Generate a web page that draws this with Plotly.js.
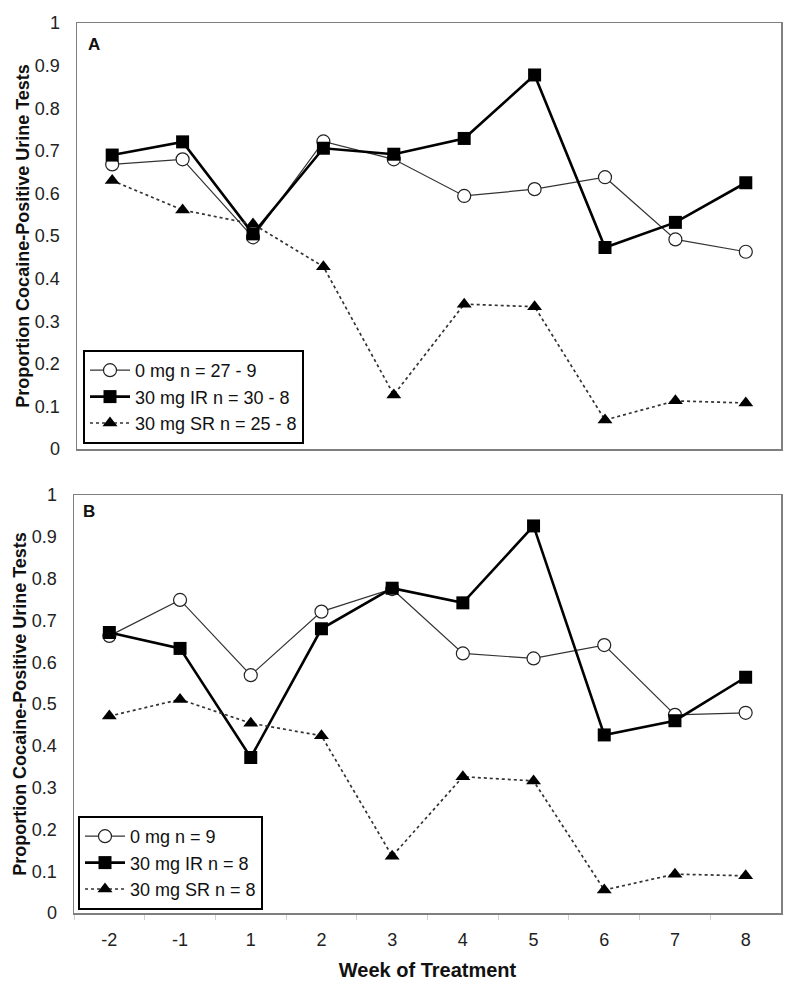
<!DOCTYPE html>
<html>
<head>
<meta charset="utf-8">
<script src="https://cdn.plot.ly/plotly-3.0.1.min.js"></script>
<style>html,body{margin:0;padding:0;background:#fff;}#chart{width:800px;height:987px;}</style>
</head>
<body>
<div id="chart"></div>
<script>
const weeks = ['-2','-1','1','2','3','4','5','6','7','8'];
const placeboA = [0.668,0.680,0.497,0.722,0.680,0.594,0.610,0.638,0.492,0.463];
const irA      = [0.690,0.721,0.505,0.706,0.692,0.729,0.878,0.473,0.532,0.625];
const srA      = [0.630,0.561,0.528,0.428,0.127,0.340,0.334,0.068,0.113,0.108];
const placeboB = [0.663,0.749,0.569,0.721,0.775,0.621,0.609,0.641,0.474,0.479];
const irB      = [0.671,0.633,0.372,0.680,0.777,0.742,0.926,0.426,0.460,0.564];
const srB      = [0.471,0.511,0.454,0.424,0.136,0.326,0.316,0.055,0.093,0.089];
const namesA = ['0 mg n = 27 - 9','30 mg IR n = 30 - 8','30 mg SR n = 25 - 8'];
const namesB = ['0 mg n = 9','30 mg IR n = 8','30 mg SR n = 8'];
const yTitle = 'Proportion Cocaine-Positive Urine Tests';
const xTitle = 'Week of Treatment';

const FONT = 'Liberation Sans, Arial, sans-serif';
const W = 800, H = 987;

function styles(i){
  if(i===0) return {line:{color:'#333',width:1.2},marker:{symbol:'circle',size:13,color:'white',line:{color:'#222',width:1.2}}};
  if(i===1) return {line:{color:'#000',width:2.6},marker:{symbol:'square',size:13,color:'#000'}};
  return {line:{color:'#333',width:1.7,dash:'dot'},marker:{symbol:'triangle-up',size:13,color:'#000'}};
}
function mk(ys, name, i, xa, ya, lg){
  const s = styles(i);
  return {x:weeks, y:ys, name:name, type:'scatter', mode:'lines+markers',
    xaxis:xa, yaxis:ya, legend:lg, line:s.line, marker:s.marker, cliponaxis:false};
}
const data = [
  mk(placeboA, namesA[0], 0, 'x','y','legend'),
  mk(irA, namesA[1], 1, 'x','y','legend'),
  mk(srA, namesA[2], 2, 'x','y','legend'),
  mk(placeboB, namesB[0], 0, 'x2','y2','legend2'),
  mk(irB, namesB[1], 1, 'x2','y2','legend2'),
  mk(srB, namesB[2], 2, 'x2','y2','legend2')
];

const yax = (dom, anchor) => ({
  domain:dom, anchor:anchor, range:[0,1], dtick:0.1, tick0:0,
  showgrid:false, zeroline:false, showline:true, mirror:true, linecolor:'#7f7f7f', linewidth:1.5,
  ticks:'', ticklabelstandoff:12,
  tickfont:{family:FONT,size:18,color:'#222'},
  title:{text:yTitle, font:{family:FONT,size:18,color:'#111',weight:'bold'}, standoff:0}
});

const layout = {
  width:W, height:H, margin:{l:0,r:0,t:0,b:0}, paper_bgcolor:'#fff', plot_bgcolor:'#fff',
  font:{family:FONT,color:'#111'},
  xaxis:{domain:[77/W,781/W], anchor:'y', type:'category', range:[-0.5,9.5],
    showgrid:false, zeroline:false, showline:true, mirror:true, linecolor:'#7f7f7f', linewidth:1.5,
    showticklabels:false, ticks:''},
  yaxis:yax([1-449/H,1-23/H],'x'),
  xaxis2:{domain:[74/W,781/W], anchor:'y2', type:'category', range:[-0.5,9.5],
    showgrid:false, zeroline:false, showline:true, mirror:true, linecolor:'#7f7f7f', linewidth:1.5,
    ticks:'outside', tickson:'boundaries', ticklen:5, tickcolor:'#cfcfcf', tickwidth:1, ticklabelstandoff:10,
    tickfont:{family:FONT,size:18,color:'#222'},
    title:{text:xTitle, font:{family:FONT,size:20,color:'#111',weight:'bold'}, standoff:14}},
  yaxis2:yax([1-913/H,1-495/H],'x2'),
  legend:{x:83/W, y:1-444/H, xanchor:'left', yanchor:'bottom', bgcolor:'#fff', bordercolor:'#000', borderwidth:2,
    font:{family:FONT,size:18,color:'#111'}, tracegroupgap:0, itemwidth:40},
  legend2:{x:78/W, y:1-910/H, xanchor:'left', yanchor:'bottom', bgcolor:'#fff', bordercolor:'#000', borderwidth:2,
    font:{family:FONT,size:18,color:'#111'}, tracegroupgap:0, itemwidth:40},
  showlegend:true,
  annotations:[
    {text:'A', xref:'paper', yref:'paper', x:86/W, y:1-33/H, xanchor:'left', yanchor:'top', showarrow:false,
     font:{family:FONT,size:17,color:'#111',weight:'bold'}},
    {text:'B', xref:'paper', yref:'paper', x:81/W, y:1-500/H, xanchor:'left', yanchor:'top', showarrow:false,
     font:{family:FONT,size:17,color:'#111',weight:'bold'}}
  ]
};
Plotly.newPlot('chart', data, layout, {displayModeBar:false, staticPlot:true});
</script>
</body>
</html>
